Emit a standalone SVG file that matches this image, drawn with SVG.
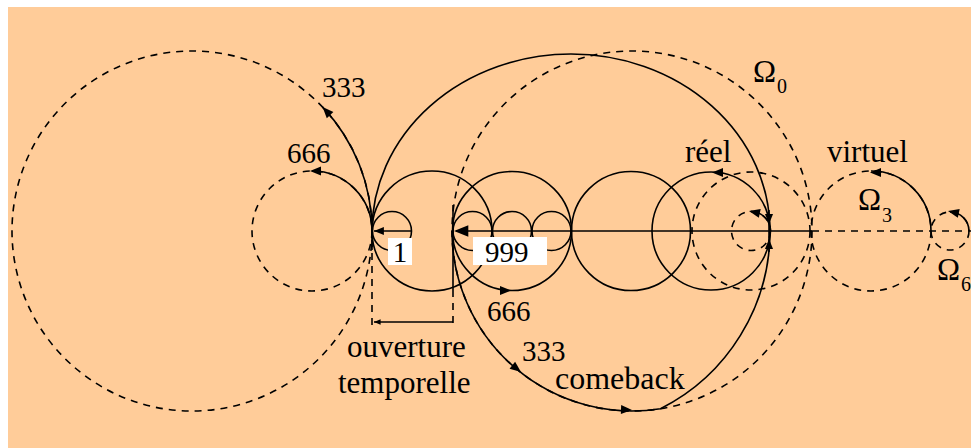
<svg xmlns="http://www.w3.org/2000/svg" width="971" height="448" viewBox="0 0 971 448">
<defs>
<style>
.s{fill:none;stroke:#000;stroke-width:1.6}
.d{fill:none;stroke:#000;stroke-width:1.6;stroke-dasharray:7 6}
.t{font-family:"Liberation Serif","Times New Roman",serif;font-size:31px;fill:#000}
.n{font-family:"Liberation Serif","Times New Roman",serif;font-size:29px;fill:#000}
.sub{font-family:"Liberation Serif","Times New Roman",serif;font-size:20px;fill:#000}
.box{fill:#fff}
</style>
<path id="ah" d="M0,0 L-11,-4.5 L-11,4.5 Z" fill="#000"/>
</defs>
<rect x="0" y="0" width="971" height="448" fill="#fff"/>
<rect x="8" y="7" width="963" height="441" fill="#FFCC99"/>

<g id="dashed-circles">
<circle id="D1" class="d" cx="192" cy="231" r="180"/>
<circle id="D2" class="d" cx="312" cy="231" r="60"/>
<circle id="D3" class="d" cx="632" cy="231" r="180"/>
<circle id="D4" class="d" cx="751" cy="231" r="59"/>
<circle id="D5" class="d" cx="751" cy="231" r="19.5"/>
<circle id="Omega3" class="d" cx="871" cy="231" r="60"/>
<circle id="Omega6" class="d" cx="950" cy="231" r="19"/>
<line class="d" x1="812" y1="231" x2="971" y2="231"/>
<line class="d" x1="372" y1="240" x2="372" y2="328"/>
<line class="d" x1="453" y1="290" x2="453" y2="328"/>
</g>

<g id="solid-circles">
<circle id="S1" class="s" cx="432" cy="231" r="60"/>
<circle id="S2" class="s" cx="512" cy="231" r="59.5"/>
<circle id="S3" class="s" cx="631" cy="231" r="59.5"/>
<circle id="S4" class="s" cx="711" cy="231" r="59"/>
<circle class="s" cx="392" cy="231" r="19.5"/>
<circle class="s" cx="472.5" cy="231" r="19.5"/>
<circle class="s" cx="512" cy="231" r="19.5"/>
<circle class="s" cx="551.5" cy="231" r="19.5"/>
<path id="Omega0" class="s" d="M372,231 A199,177 0 0 1 770,231 A199,199 0 0 1 660.5,408.7 A180,180 0 0 1 452,231"/>
</g>

<g id="connectors">
<path class="s" d="M372,231 A180,180 0 0 0 322.6,107.1"/>
<path class="s" d="M372,231 A60,60 0 0 0 312,171"/>
<path class="s" d="M770.5,231 A19.5,19.5 0 0 0 751,211.5"/>
<path class="s" d="M931,231 A60,60 0 0 0 871,171"/>
<path class="s" d="M969,231 A19,19 0 0 0 950,212"/>
<line class="s" x1="411" y1="231" x2="374" y2="231"/>
<line class="s" x1="456" y1="231" x2="812" y2="231"/>
<line class="s" x1="374" y1="322" x2="453" y2="322"/>
<line class="s" x1="372" y1="222" x2="372" y2="250" stroke-width="3"/>
<line class="s" x1="453" y1="205" x2="453" y2="290" stroke-width="2.6"/>
<line class="s" x1="769" y1="210" x2="769" y2="252" stroke-width="2.4"/>
<use href="#ah" transform="translate(322.6,107.1) rotate(-133)"/>
<use href="#ah" transform="translate(310,171) rotate(180)"/>
<use href="#ah" transform="translate(712,172.5) rotate(180)"/>
<use href="#ah" transform="translate(749,211) rotate(-168)"/>
<use href="#ah" transform="translate(769,224) rotate(90) scale(0.9)"/>
<use href="#ah" transform="translate(769,239) rotate(-90) scale(0.9)"/>
<use href="#ah" transform="translate(870,172.5) rotate(180)"/>
<use href="#ah" transform="translate(948,211) rotate(-168)"/>
<use href="#ah" transform="translate(511,290.5) rotate(0)"/>
<use href="#ah" transform="translate(521,372) rotate(38)"/>
<use href="#ah" transform="translate(632,410) rotate(2)"/>
<use href="#ah" transform="translate(374,231) rotate(180) scale(0.9)"/>
<use href="#ah" transform="translate(454,231) rotate(180) scale(1.3)"/>
<use href="#ah" transform="translate(374,322) rotate(180) scale(0.6)"/>
</g>

<g id="labels">
<rect id="box1" class="box" x="388" y="238" width="24" height="27"/>
<text class="n" x="400" y="262" text-anchor="middle">1</text>
<rect id="box999" class="box" x="473" y="237" width="74" height="28"/>
<text class="n" x="485" y="262">999</text>
<text class="n" x="322" y="97">333</text>
<text class="n" x="287" y="163">666</text>
<text class="n" x="487" y="321">666</text>
<text class="n" x="522" y="361">333</text>
<text class="t" x="347" y="357">ouverture</text>
<text class="t" x="338" y="393">temporelle</text>
<text class="t" x="555" y="389" style="font-size:32px">comeback</text>
<text class="t" x="685" y="162">réel</text>
<text class="t" x="827" y="162">virtuel</text>
<text class="t" x="753" y="82">Ω</text><text class="sub" x="777" y="93">0</text>
<text class="t" x="858" y="210">Ω</text><text class="sub" x="882" y="222">3</text>
<text class="t" x="937" y="280">Ω</text><text class="sub" x="961" y="291">6</text>
</g>
</svg>
